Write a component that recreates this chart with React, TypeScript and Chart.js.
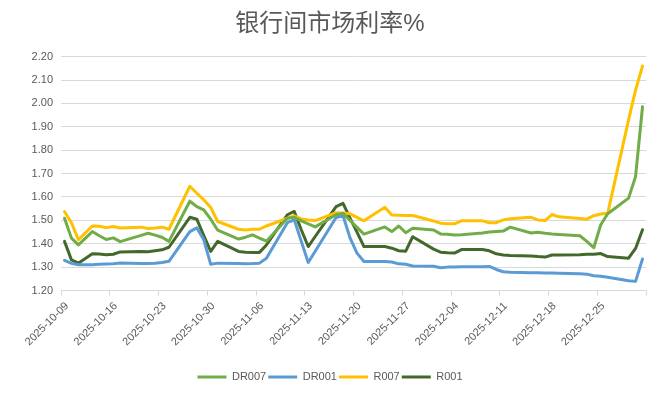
import React, { useEffect, useRef } from 'react';
import { Chart, registerables } from 'chart.js';

Chart.register(...registerables);

const TITLE = '银行间市场利率%';
const BASE_DATE = '2025-10-09';

const dates = [
  '2025-10-09', '2025-10-10', '2025-10-11',
  '2025-10-13', '2025-10-14', '2025-10-15', '2025-10-16', '2025-10-17',
  '2025-10-20', '2025-10-21', '2025-10-22', '2025-10-23', '2025-10-24',
  '2025-10-27', '2025-10-28', '2025-10-29', '2025-10-30', '2025-10-31',
  '2025-11-03', '2025-11-04', '2025-11-05', '2025-11-06', '2025-11-07',
  '2025-11-10', '2025-11-11', '2025-11-12', '2025-11-13', '2025-11-14',
  '2025-11-17', '2025-11-18', '2025-11-19', '2025-11-20', '2025-11-21',
  '2025-11-24', '2025-11-25', '2025-11-26', '2025-11-27', '2025-11-28',
  '2025-12-01', '2025-12-02', '2025-12-03', '2025-12-04', '2025-12-05',
  '2025-12-08', '2025-12-09', '2025-12-10', '2025-12-11', '2025-12-12',
  '2025-12-15', '2025-12-16', '2025-12-17', '2025-12-18', '2025-12-19',
  '2025-12-22', '2025-12-23', '2025-12-24', '2025-12-25', '2025-12-26',
  '2025-12-29', '2025-12-30', '2025-12-31',
];

const dr007 = [
  1.509, 1.424, 1.395,
  1.452, 1.434, 1.418, 1.425, 1.409,
  1.436, 1.445, 1.437, 1.428, 1.41,
  1.582, 1.559, 1.545, 1.505, 1.458,
  1.42, 1.428, 1.438, 1.424, 1.411,
  1.509, 1.513, 1.498, 1.485, 1.472,
  1.524, 1.53, 1.5, 1.47, 1.441,
  1.472, 1.452, 1.476, 1.447, 1.466,
  1.459, 1.442, 1.441, 1.437, 1.438,
  1.446, 1.45, 1.452, 1.454, 1.471,
  1.446, 1.449, 1.445, 1.442, 1.44,
  1.434, 1.41, 1.383, 1.481, 1.528,
  1.595, 1.687, 1.986,
];

const dr001 = [
  1.329, 1.316, 1.31,
  1.31, 1.312, 1.313, 1.314, 1.318,
  1.316, 1.315, 1.317, 1.32, 1.325,
  1.452, 1.468, 1.417, 1.312, 1.317,
  1.315, 1.314, 1.315, 1.317, 1.338,
  1.49, 1.502, 1.41, 1.32, 1.368,
  1.512, 1.52, 1.425, 1.36, 1.324,
  1.324, 1.322, 1.314, 1.312, 1.305,
  1.304, 1.297, 1.3, 1.301, 1.302,
  1.302, 1.303, 1.29, 1.28, 1.278,
  1.276, 1.276, 1.275, 1.275, 1.274,
  1.272, 1.27, 1.263, 1.261, 1.257,
  1.242, 1.239, 1.335,
];

const r007 = [
  1.538, 1.49, 1.417,
  1.476, 1.475, 1.469, 1.474, 1.467,
  1.471, 1.465, 1.467, 1.471, 1.462,
  1.646, 1.616, 1.588, 1.555, 1.495,
  1.462, 1.459, 1.462, 1.462, 1.476,
  1.509, 1.519, 1.506, 1.502, 1.499,
  1.533, 1.531, 1.528, 1.513, 1.498,
  1.556, 1.523, 1.522, 1.521, 1.521,
  1.497, 1.488, 1.486, 1.485, 1.498,
  1.498, 1.49, 1.49, 1.502, 1.507,
  1.513, 1.502, 1.499, 1.525, 1.515,
  1.508, 1.505, 1.52, 1.527, 1.53,
  1.93, 2.057, 2.16,
];

const r001 = [
  1.41, 1.331, 1.317,
  1.357, 1.356, 1.353, 1.355, 1.365,
  1.367, 1.366, 1.37, 1.374, 1.385,
  1.513, 1.505, 1.435, 1.367, 1.41,
  1.367, 1.364, 1.363, 1.363, 1.395,
  1.524, 1.538, 1.46, 1.388, 1.431,
  1.559, 1.573, 1.51, 1.45, 1.388,
  1.388, 1.381, 1.37, 1.368, 1.43,
  1.377, 1.364, 1.361, 1.36, 1.375,
  1.375, 1.37, 1.357, 1.352, 1.35,
  1.348, 1.345, 1.343, 1.352, 1.352,
  1.353, 1.355, 1.355, 1.358, 1.345,
  1.338, 1.38, 1.46,
];

const seriesNames = ['DR007', 'DR001', 'R007', 'R001'];
const seriesColors = ['#70AD47', '#5B9BD5', '#FFC000', '#43682B'];

const xTickLabels = [
  '2025-10-09', '2025-10-16', '2025-10-23', '2025-10-30', '2025-11-06',
  '2025-11-13', '2025-11-20', '2025-11-27', '2025-12-04', '2025-12-11',
  '2025-12-18', '2025-12-25', '',
];
const X_TICK_DAYS = 7;

const Y_MIN = 1.2;
const Y_MAX = 2.2;
const Y_STEP = 0.1;

const FONT = "'Liberation Sans', 'Noto Sans CJK SC', sans-serif";
const TEXT_COLOR = '#595959';
const GRID_COLOR = '#d9d9d9';

function dayIndex(s: string): number {
  const [y, m, d] = s.split('-').map(Number);
  const [by, bm, bd] = BASE_DATE.split('-').map(Number);
  return Math.round((Date.UTC(y, m - 1, d) - Date.UTC(by, bm - 1, bd)) / 86400000);
}

export default function App() {
  const canvasRef = useRef<HTMLCanvasElement | null>(null);

  useEffect(() => {
    document.body.style.margin = '0';
    const canvas = canvasRef.current;
    if (!canvas) return;
    const allSeries = [dr007, dr001, r007, r001];
    const datasets = allSeries.map((vals, si) => ({
      label: seriesNames[si],
      data: vals.map((v, i) => ({ x: dayIndex(dates[i]), y: v })),
      borderColor: seriesColors[si],
      backgroundColor: seriesColors[si],
      borderWidth: 3,
      pointRadius: 0,
      pointHoverRadius: 0,
      tension: 0,
      borderJoinStyle: 'round' as const,
      borderCapStyle: 'round' as const,
    }));
    const xMax = (xTickLabels.length - 1) * X_TICK_DAYS - 0.5;

    const chart = new Chart(canvas, {
      type: 'line',
      data: { datasets },
      options: {
        animation: false,
        responsive: false,
        devicePixelRatio: 1,
        layout: { padding: { left: 14, right: 16, top: 0, bottom: 4.5 } },
        plugins: {
          title: {
            display: true,
            text: TITLE,
            color: TEXT_COLOR,
            font: { family: FONT, size: 24, weight: 'normal' },
            padding: { top: 9.5, bottom: 18.4 },
          },
          legend: {
            position: 'bottom',
            labels: {
              usePointStyle: true,
              pointStyle: 'line',
              pointStyleWidth: 29,
              color: TEXT_COLOR,
              font: { family: FONT, size: 11 },
              padding: 2,
            },
          },
          tooltip: { enabled: false },
        },
        scales: {
          x: {
            type: 'linear',
            min: -0.5,
            max: xMax,
            afterBuildTicks: (axis: any) => {
              axis.ticks = xTickLabels.map((_, i) => ({ value: i * X_TICK_DAYS - 0.5 }));
            },
            afterFit: (s: any) => {
              s.height = 79;
            },
            grid: { drawOnChartArea: false, color: GRID_COLOR, tickLength: 5 },
            border: { color: GRID_COLOR },
            ticks: {
              autoSkip: false,
              minRotation: 45,
              maxRotation: 45,
              labelOffset: 6,
              padding: 4,
              color: TEXT_COLOR,
              font: { family: FONT, size: 11 },
              callback: (_v: any, i: number) => xTickLabels[i] ?? '',
            },
          },
          y: {
            min: Y_MIN,
            max: Y_MAX,
            afterFit: (s: any) => {
              s.width = 47;
            },
            grid: { color: GRID_COLOR, drawTicks: false },
            border: { display: false },
            ticks: {
              stepSize: Y_STEP,
              padding: 8,
              color: TEXT_COLOR,
              font: { family: FONT, size: 11 },
              callback: (v: any) => Number(v).toFixed(2),
            },
          },
        },
      },
    });
    return () => chart.destroy();
  }, []);

  return (
    <div style={{ width: 662, height: 397, background: '#ffffff' }}>
      <canvas ref={canvasRef} width={662} height={397} style={{ display: 'block' }} />
    </div>
  );
}
